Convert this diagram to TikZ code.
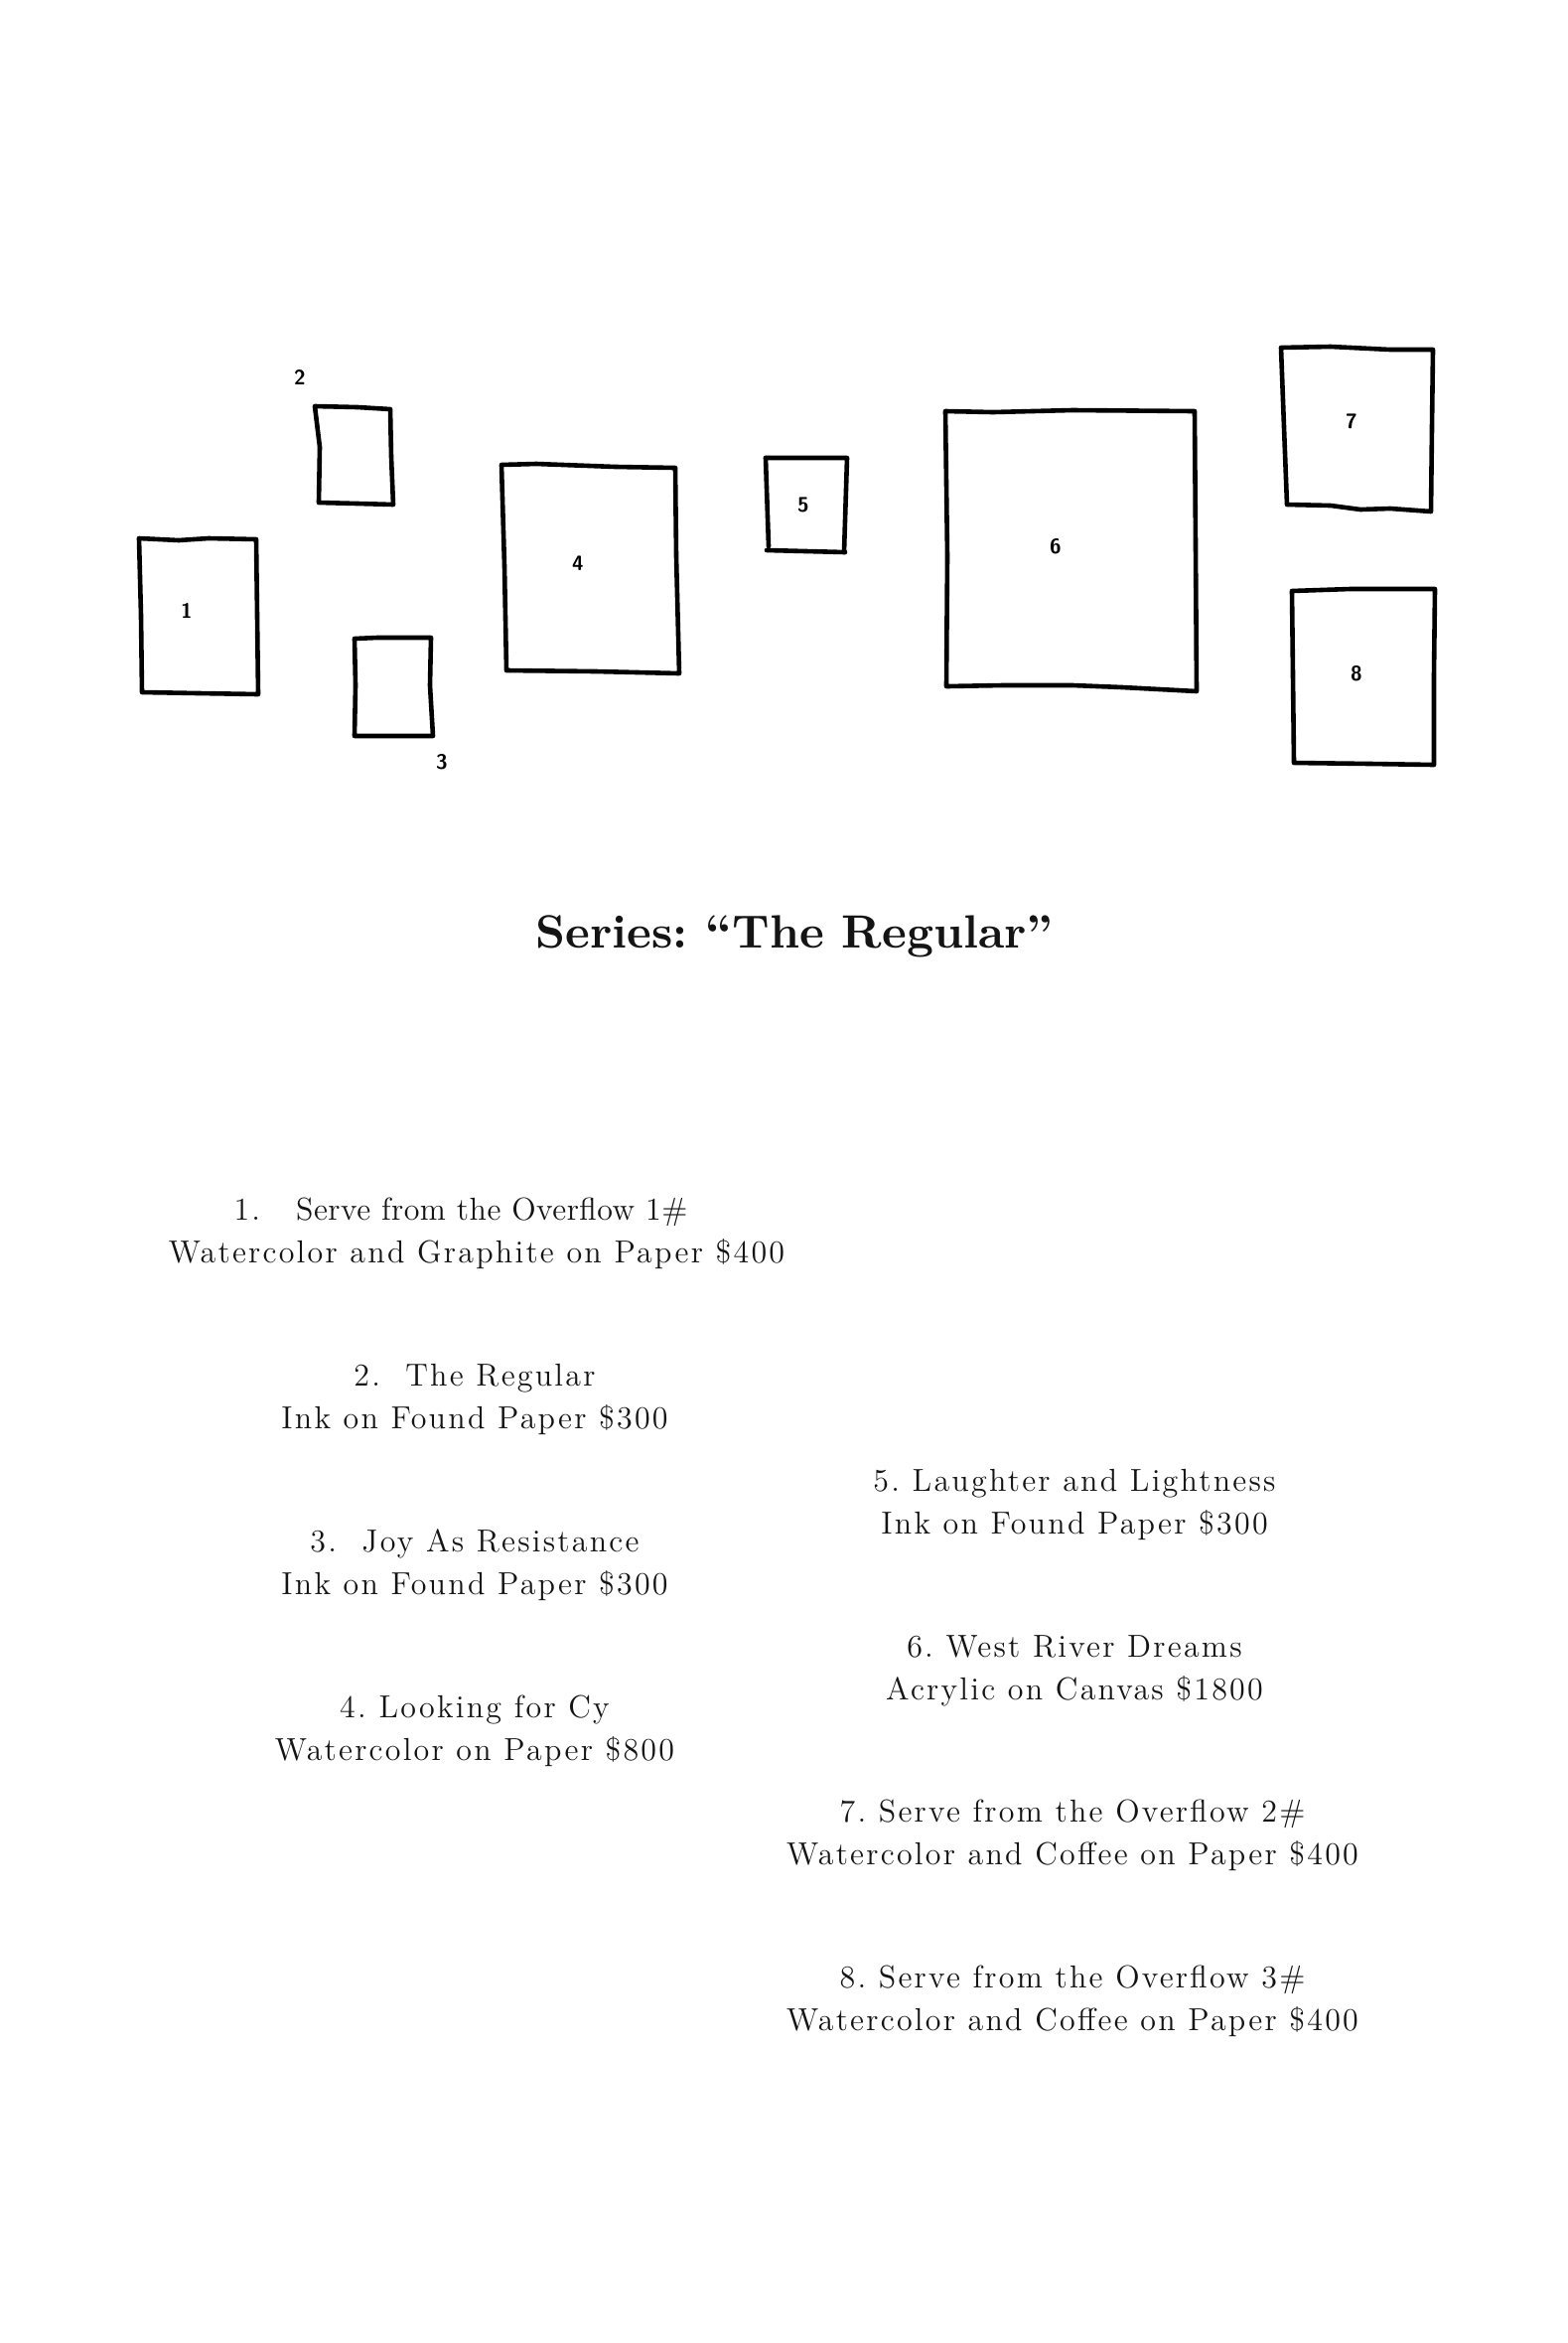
\documentclass[tikz,border=0pt]{standalone}
\usepackage{fontspec}
\newfontfamily\trk{lmroman12-regular.otf}[LetterSpace=7]
\newfontfamily\trkA{lmroman12-regular.otf}[LetterSpace=1.5]
\newfontfamily\ttl{lmroman10-bold.otf}
\begin{document}
\begin{tikzpicture}[x=1pt,y=-1pt,
  frame/.style={line width=4.6pt,line join=round,line cap=round,black},
  num/.style={font=\sffamily\bfseries\fontsize{21}{21}\selectfont,inner sep=0pt},
  item/.style={font=\trk\frenchspacing\fontsize{32}{43}\selectfont,align=center,text=black!92,inner sep=0pt},
  titlestyle/.style={font=\ttl\frenchspacing\fontsize{47}{50}\selectfont,text=black!92,inner sep=0pt}]
\useasboundingbox[fill=white] (0,0) rectangle (1579,2359);

% hand drawn frames
\draw[frame] (140,542) -- (180,544) -- (210,542) -- (258,543) -- (259,620) -- (260,699) -- (200,698) -- (143,697) -- (142,620) -- cycle;
\draw[frame] (317,409) -- (360,410) -- (393,412) -- (394,460) -- (396,508) -- (360,507) -- (321,506) -- (322,450) -- cycle;
\draw[frame] (357,643) -- (380,642) -- (434,642) -- (433,690) -- (436,741) -- (400,741) -- (357,741) -- (358,690) -- cycle;
\draw[frame] (505,468) -- (540,467) -- (620,470) -- (680,471) -- (681,560) -- (684,678) -- (600,676) -- (510,675) -- (508,570) -- cycle;
\draw[frame] (771,461) -- (853,461) -- (850,556);
\draw[frame] (771,461) -- (774,550);
\draw[frame] (772,554) -- (851,556);
\draw[frame] (952,414) -- (1000,415) -- (1080,413) -- (1203,414) -- (1204,550) -- (1205,696) -- (1130,692) -- (1080,690) -- (1010,690) -- (953,691) -- (954,560) -- cycle;
\draw[frame] (1290,350) -- (1340,349) -- (1400,352) -- (1443,352) -- (1442,430) -- (1441,515) -- (1400,512) -- (1370,513) -- (1340,509) -- (1296,508) -- (1293,430) -- cycle;
\draw[frame] (1301,595) -- (1360,593) -- (1445,593) -- (1444,680) -- (1444,770) -- (1380,769) -- (1303,768) -- (1302,680) -- cycle;

% frame numbers
\node[num] (n1) at (188,615) {1};
\node[num] (n2) at (302,380) {2};
\node[num] (n3) at (445,767) {3};
\node[num] (n4) at (582,567) {4};
\node[num] (n5) at (809,508) {5};
\node[num] (n6) at (1063,550) {6};
\node[num] (n7) at (1361,424) {7};
\node[num] (n8) at (1366,678) {8};

% title
\node[titlestyle] (title) at (800,943) {Series: “The Regular”};

% left column
\node[item] (t1) at (480,1242) {1.\hspace{36pt}{\trkA Serve from the Overflow 1\#}\hspace*{32pt}\\Watercolor and Graphite on Paper \$400};
\node[item] (t2) at (478,1409) {2.\ \ The Regular\\Ink on Found Paper \$300};
\node[item] (t3) at (478,1576) {3.\ \ Joy As Resistance\\Ink on Found Paper \$300};
\node[item] (t4) at (478,1743) {4. Looking for Cy\\Watercolor on Paper \$800};

% right column
\node[item] (t5) at (1082,1515) {5. Laughter and Lightness\\Ink on Found Paper \$300};
\node[item] (t6) at (1082,1682) {6. West River Dreams\\Acrylic on Canvas \$1800};
\node[item] (t7) at (1080,1848) {7. Serve from the Overflow 2\#\\Watercolor and Coffee on Paper \$400};
\node[item] (t8) at (1080,2015) {8. Serve from the Overflow 3\#\\Watercolor and Coffee on Paper \$400};
\end{tikzpicture}
\end{document}
